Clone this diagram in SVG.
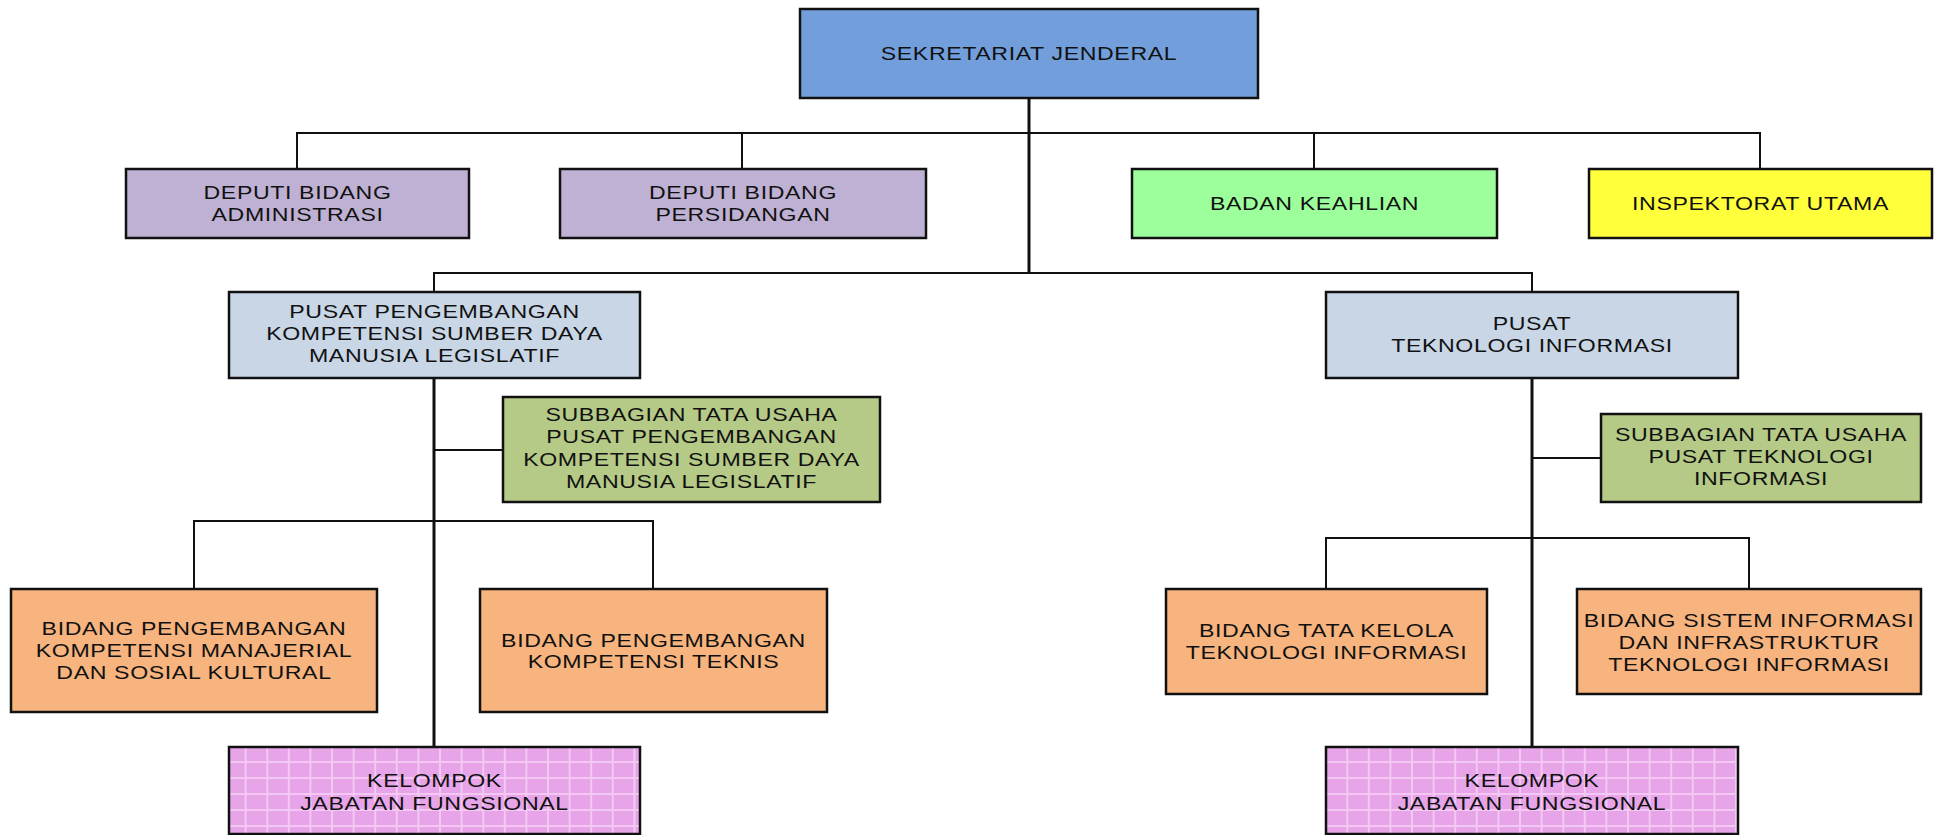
<svg xmlns="http://www.w3.org/2000/svg" width="1937" height="835" viewBox="0 0 1937 835">
  <style>
    .box { stroke: #111; stroke-width: 2.5; }
    .lbl { font-family: "Liberation Sans", Arial, sans-serif; font-size: 18.5px; fill: #111; text-anchor: middle; letter-spacing: 0.5px; }
    .wire { stroke: #111; stroke-width: 2; fill: none; }
    .trunk { stroke: #111; stroke-width: 3; fill: none; }
    .sekjen { fill: #729fdb; }
    .deputi { fill: #bfb1d3; }
    .badan { fill: #9cff9c; }
    .itama { fill: #ffff3c; }
    .pusat { fill: #c8d6e6; }
    .subbag { fill: #b5ca86; }
    .bidang { fill: #f7b47e; }
  </style>
  <defs>
    <pattern id="grid" patternUnits="userSpaceOnUse" x="225" y="747" width="21.6" height="16">
      <rect width="21.6" height="16" fill="#e7a4e8"/>
      <path d="M20.6 0V16M0 15H21.6" stroke="#f3c9f3" stroke-width="2"/>
    </pattern>
  </defs>

  <rect width="1937" height="835" fill="#ffffff"/>

  <!-- connectors -->
  <g id="connectors">
    <path class="trunk" d="M1029 98V273"/>
    <path class="wire" d="M297 169V133H1760V169M742 133V169M1314 133V169"/>
    <path class="wire" d="M434 292V273H1532V292"/>
    <path class="trunk" d="M434 378V747"/>
    <path class="trunk" d="M1532 378V747"/>
    <path class="wire" d="M434 450H503"/>
    <path class="wire" d="M1532 458H1601"/>
    <path class="wire" d="M194 589V521H653V589"/>
    <path class="wire" d="M1326 589V538H1749V589"/>
  </g>

  <g id="sekretariat-jenderal">
    <rect class="box sekjen" x="800" y="9" width="458" height="89"/>
    <text class="lbl" transform="translate(1029 0) scale(1.25 1)" x="0" y="60">SEKRETARIAT JENDERAL</text>
  </g>

  <g id="deputi-administrasi">
    <rect class="box deputi" x="126" y="169" width="343" height="69"/>
    <text class="lbl" transform="translate(297.5 0) scale(1.25 1)"><tspan x="0" y="199.5">DEPUTI BIDANG</tspan><tspan x="0" y="221">ADMINISTRASI</tspan></text>
  </g>

  <g id="deputi-persidangan">
    <rect class="box deputi" x="560" y="169" width="366" height="69"/>
    <text class="lbl" transform="translate(743 0) scale(1.25 1)"><tspan x="0" y="199.5">DEPUTI BIDANG</tspan><tspan x="0" y="221">PERSIDANGAN</tspan></text>
  </g>

  <g id="badan-keahlian">
    <rect class="box badan" x="1132" y="169" width="365" height="69"/>
    <text class="lbl" transform="translate(1314.5 0) scale(1.25 1)" x="0" y="210">BADAN KEAHLIAN</text>
  </g>

  <g id="inspektorat-utama">
    <rect class="box itama" x="1589" y="169" width="343" height="69"/>
    <text class="lbl" transform="translate(1760.5 0) scale(1.25 1)" x="0" y="210">INSPEKTORAT UTAMA</text>
  </g>

  <g id="pusat-pengembangan">
    <rect class="box pusat" x="229" y="292" width="411" height="86"/>
    <text class="lbl" transform="translate(434.5 0) scale(1.25 1)"><tspan x="0" y="318">PUSAT PENGEMBANGAN</tspan><tspan x="0" y="340">KOMPETENSI SUMBER DAYA</tspan><tspan x="0" y="362">MANUSIA LEGISLATIF</tspan></text>
  </g>

  <g id="pusat-ti">
    <rect class="box pusat" x="1326" y="292" width="412" height="86"/>
    <text class="lbl" transform="translate(1532 0) scale(1.25 1)"><tspan x="0" y="330">PUSAT</tspan><tspan x="0" y="352">TEKNOLOGI INFORMASI</tspan></text>
  </g>

  <g id="subbagian-pusat-pengembangan">
    <rect class="box subbag" x="503" y="397" width="377" height="105"/>
    <text class="lbl" transform="translate(691.5 0) scale(1.25 1)"><tspan x="0" y="421">SUBBAGIAN TATA USAHA</tspan><tspan x="0" y="443.5">PUSAT PENGEMBANGAN</tspan><tspan x="0" y="466">KOMPETENSI SUMBER DAYA</tspan><tspan x="0" y="488.5">MANUSIA LEGISLATIF</tspan></text>
  </g>

  <g id="subbagian-pusat-ti">
    <rect class="box subbag" x="1601" y="414" width="320" height="88"/>
    <text class="lbl" transform="translate(1761 0) scale(1.25 1)"><tspan x="0" y="441">SUBBAGIAN TATA USAHA</tspan><tspan x="0" y="463">PUSAT TEKNOLOGI</tspan><tspan x="0" y="485">INFORMASI</tspan></text>
  </g>

  <g id="bidang-manajerial">
    <rect class="box bidang" x="11" y="589" width="366" height="123"/>
    <text class="lbl" transform="translate(194 0) scale(1.25 1)"><tspan x="0" y="635">BIDANG PENGEMBANGAN</tspan><tspan x="0" y="657">KOMPETENSI MANAJERIAL</tspan><tspan x="0" y="679">DAN SOSIAL KULTURAL</tspan></text>
  </g>

  <g id="bidang-teknis">
    <rect class="box bidang" x="480" y="589" width="347" height="123"/>
    <text class="lbl" transform="translate(653.5 0) scale(1.25 1)"><tspan x="0" y="647">BIDANG PENGEMBANGAN</tspan><tspan x="0" y="668">KOMPETENSI TEKNIS</tspan></text>
  </g>

  <g id="bidang-tata-kelola">
    <rect class="box bidang" x="1166" y="589" width="321" height="105"/>
    <text class="lbl" transform="translate(1326.5 0) scale(1.25 1)"><tspan x="0" y="637">BIDANG TATA KELOLA</tspan><tspan x="0" y="659">TEKNOLOGI INFORMASI</tspan></text>
  </g>

  <g id="bidang-sistem-informasi">
    <rect class="box bidang" x="1577" y="589" width="344" height="105"/>
    <text class="lbl" transform="translate(1749 0) scale(1.25 1)"><tspan x="0" y="627">BIDANG SISTEM INFORMASI</tspan><tspan x="0" y="649">DAN INFRASTRUKTUR</tspan><tspan x="0" y="671">TEKNOLOGI INFORMASI</tspan></text>
  </g>

  <g id="kelompok-jf-kiri">
    <rect class="box" fill="url(#grid)" x="229" y="747" width="411" height="87"/>
    <text class="lbl" transform="translate(434.5 0) scale(1.25 1)"><tspan x="0" y="787">KELOMPOK</tspan><tspan x="0" y="810">JABATAN FUNGSIONAL</tspan></text>
  </g>

  <g id="kelompok-jf-kanan">
    <rect class="box" fill="url(#grid)" x="1326" y="747" width="412" height="87"/>
    <text class="lbl" transform="translate(1532 0) scale(1.25 1)"><tspan x="0" y="787">KELOMPOK</tspan><tspan x="0" y="810">JABATAN FUNGSIONAL</tspan></text>
  </g>
</svg>
